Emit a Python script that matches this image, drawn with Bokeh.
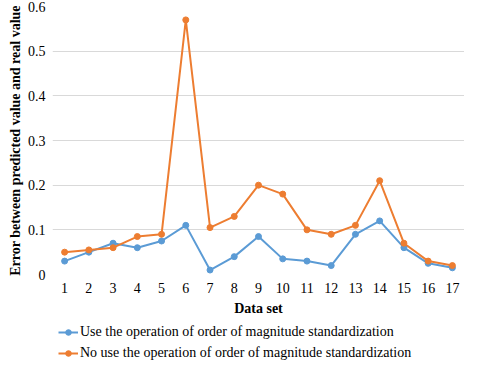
from bokeh.plotting import figure
from bokeh.models import Legend, LegendItem, FixedTicker, ColumnDataSource
from bokeh.layouts import column
from bokeh.embed import file_html
from bokeh.resources import INLINE

datasets = [str(i) for i in range(1, 18)]
with_std = [0.03, 0.05, 0.07, 0.06, 0.075, 0.11, 0.01, 0.04, 0.085, 0.035, 0.03, 0.02, 0.09, 0.12, 0.06, 0.025, 0.015]
without_std = [0.05, 0.055, 0.06, 0.085, 0.09, 0.57, 0.105, 0.13, 0.2, 0.18, 0.1, 0.09, 0.11, 0.21, 0.07, 0.03, 0.02]
y_ticks = [0, 0.1, 0.2, 0.3, 0.4, 0.5, 0.6]
y_tick_labels = ["0", "0.1", "0.2", "0.3", "0.4", "0.5", "0.6"]
series_names = ["Use the operation of order of magnitude standardization",
                "No use the operation of order of magnitude standardization"]
colors = ["#5B9BD5", "#ED7D31"]

FONT = "Liberation Serif"
FS = "14px"

p = figure(width=464, height=320, x_range=datasets, y_range=(0, 0.6),
           output_backend="svg", toolbar_location=None,
           min_border_top=6, min_border_right=0, min_border_left=0, min_border_bottom=46)
p.outline_line_color = None
p.xgrid.grid_line_color = None
p.ygrid.grid_line_color = "#D9D9D9"
p.ygrid.grid_line_width = 1

p.yaxis.ticker = FixedTicker(ticks=y_ticks)
p.yaxis.major_label_overrides = {t: l for t, l in zip(y_ticks, y_tick_labels)}
for ax in (p.xaxis, p.yaxis):
    ax.axis_line_color = None
    ax.major_tick_line_color = None
    ax.minor_tick_line_color = None
    ax.major_tick_out = 0
    ax.major_tick_in = 0
    ax.major_label_text_font = FONT
    ax.major_label_text_font_size = FS
    ax.major_label_text_color = "#000000"
    ax.axis_label_text_font = FONT
    ax.axis_label_text_font_size = FS
    ax.axis_label_text_font_style = "bold"
    ax.axis_label_text_color = "#000000"
p.xaxis.axis_label = "Data set"
p.yaxis.axis_label = "Error between predicted value and real value"
p.xaxis.major_label_standoff = 8
p.xaxis.axis_label_standoff = 5
p.yaxis.major_label_standoff = 7
p.yaxis.axis_label_standoff = 2

for vals, c in zip([with_std, without_std], colors):
    src = ColumnDataSource(dict(x=datasets, y=vals))
    p.line("x", "y", source=src, line_color=c, line_width=2)
    p.scatter("x", "y", source=src, size=6, fill_color=c, line_color=c)

# legend panel below the chart (dummy renderers placed outside the visible range)
p2 = figure(width=464, height=41, x_range=(0, 1), y_range=(0, 1),
            output_backend="svg", toolbar_location=None,
            min_border_top=0, min_border_right=0, min_border_left=52, min_border_bottom=0)
p2.outline_line_color = None
p2.xaxis.visible = False
p2.yaxis.visible = False
p2.grid.visible = False
items = []
for name, c in zip(series_names, colors):
    src2 = ColumnDataSource(dict(x=[-5, -4], y=[-5, -5]))
    l = p2.line("x", "y", source=src2, line_color=c, line_width=2)
    s = p2.scatter("x", "y", source=src2, size=5, fill_color=c, line_color=c)
    items.append(LegendItem(label=name, renderers=[l, s]))
legend = Legend(items=items, orientation="vertical", location=(6, 0),
                border_line_color=None, background_fill_alpha=0,
                label_text_font=FONT, label_text_font_size=FS,
                label_text_color="#000000",
                glyph_width=20, glyph_height=14, label_standoff=2,
                label_height=14, spacing=5, padding=1, margin=0)
p2.add_layout(legend, "center")

layout = column(p, p2, spacing=0)
open("out.html", "w").write(file_html(layout, INLINE))
